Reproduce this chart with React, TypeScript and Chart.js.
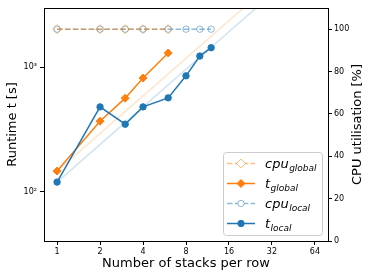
import React, { useEffect, useRef } from 'react';
import { Chart, registerables } from 'chart.js';
Chart.register(...registerables);

const stacksGlobal = [1, 2, 3, 4, 6];
const stacksLocal = [1, 2, 3, 4, 6, 8, 10, 12];
const runtimeGlobal = [147, 369, 564, 817, 1297];
const runtimeLocal = [120, 480, 349, 480, 567, 851, 1225, 1430];
const cpuGlobal = [100, 100, 100, 100, 100];
const cpuLocal = [100, 100, 100, 100, 100, 100, 100, 100];
const idealStacks = [1, 64];
const idealGlobal = [147, 9408];
const idealLocal = [120, 7680];
const xTickValues = [1, 2, 4, 8, 16, 32, 64];
const yTickValues = [100, 1000];
const yTickLabels = ['10²', '10³'];
const y2TickValues = [0, 20, 40, 60, 80, 100];
const legendMain = ['cpu', 't', 'cpu', 't'];
const legendSub = ['global', 'global', 'local', 'local'];

const ORANGE = '#ff7f0e';
const BLUE = '#1f77b4';
const ORANGE_A = 'rgba(255,127,14,0.5)';
const BLUE_A = 'rgba(31,119,180,0.5)';
const FONT = '"DejaVu Sans", sans-serif';

const pts = (xs: number[], ys: number[]) => xs.map((x, i) => ({ x, y: ys[i] }));

const legendStyles = [
  { color: ORANGE_A, dash: [5.5, 2.4], shape: 'diamond', filled: false },
  { color: ORANGE, dash: [], shape: 'diamond', filled: true },
  { color: BLUE_A, dash: [5.5, 2.4], shape: 'circle', filled: false },
  { color: BLUE, dash: [], shape: 'circle', filled: true },
];

const decor = {
  id: 'decor',
  afterDraw(chart: any) {
    const { ctx, chartArea: a } = chart;
    ctx.save();
    ctx.strokeStyle = '#000';
    ctx.lineWidth = 1;
    ctx.beginPath();
    ctx.moveTo(a.left, Math.round(a.top) + 0.5);
    ctx.lineTo(a.right, Math.round(a.top) + 0.5);
    ctx.stroke();
    ctx.restore();

    // right axis title
    ctx.save();
    ctx.font = '13px ' + FONT;
    ctx.fillStyle = '#000';
    ctx.textAlign = 'center';
    ctx.textBaseline = 'middle';
    ctx.translate(chart.width - 16.5, (a.top + a.bottom) / 2);
    ctx.rotate(-Math.PI / 2);
    ctx.fillText('CPU utilisation [%]', 0, 0);
    ctx.restore();

    // legend
    const bw = 99, bh = 83;
    const bx = a.right - 6 - bw, by = a.bottom - 6 - bh;
    ctx.save();
    ctx.beginPath();
    ctx.roundRect(bx + 0.5, by + 0.5, bw, bh, 3);
    ctx.fillStyle = 'rgba(255,255,255,0.8)';
    ctx.fill();
    ctx.strokeStyle = '#cccccc';
    ctx.lineWidth = 1;
    ctx.stroke();
    for (let i = 0; i < legendMain.length; i++) {
      const st = legendStyles[i];
      const cy = by + 11.5 + i * 20;
      ctx.strokeStyle = st.color;
      ctx.lineWidth = 1.5;
      ctx.setLineDash(st.dash);
      ctx.beginPath();
      ctx.moveTo(bx + 4, cy);
      ctx.lineTo(bx + 32, cy);
      ctx.stroke();
      ctx.setLineDash([]);
      const mx = bx + 18;
      ctx.beginPath();
      if (st.shape === 'diamond') {
        const r = st.filled ? 4 : 4.5;
        ctx.moveTo(mx, cy - r);
        ctx.lineTo(mx + r, cy);
        ctx.lineTo(mx, cy + r);
        ctx.lineTo(mx - r, cy);
        ctx.closePath();
      } else {
        ctx.arc(mx, cy, 3.2, 0, Math.PI * 2);
      }
      ctx.lineWidth = 1;
      if (st.filled) {
        ctx.fillStyle = st.color;
        ctx.fill();
      } else {
        ctx.fillStyle = '#fff';
        ctx.fill();
      }
      ctx.stroke();
      ctx.fillStyle = '#000';
      ctx.textAlign = 'left';
      ctx.textBaseline = 'alphabetic';
      ctx.font = 'italic 13px ' + FONT;
      const tx = bx + 42;
      ctx.fillText(legendMain[i], tx, cy + 4);
      const w = ctx.measureText(legendMain[i]).width;
      ctx.font = 'italic 9px ' + FONT;
      ctx.fillText(legendSub[i], tx + w + 0.5, cy + 7);
    }
    ctx.restore();
  },
};

export default function App() {
  const ref = useRef<HTMLCanvasElement>(null);
  useEffect(() => {
    const canvas = ref.current!;
    const tickGrid = { display: true, drawOnChartArea: false, drawTicks: true, tickLength: 4, color: '#000', lineWidth: 1 };
    const chart = new Chart(canvas, {
      type: 'line',
      data: {
        datasets: [
          {
            label: 'cpu_global', data: pts(stacksGlobal, cpuGlobal), yAxisID: 'y2',
            borderColor: ORANGE_A, borderWidth: 1.5, borderDash: [5.5, 2.4],
            pointStyle: 'rectRot', pointRadius: 4.5, pointBorderWidth: 1,
            pointBorderColor: ORANGE_A, pointBackgroundColor: 'rgba(0,0,0,0)',
          },
          {
            label: 'cpu_local', data: pts(stacksLocal, cpuLocal), yAxisID: 'y2',
            borderColor: BLUE_A, borderWidth: 1.5, borderDash: [5.5, 2.4],
            pointStyle: 'circle', pointRadius: 3.2, pointBorderWidth: 1,
            pointBorderColor: BLUE_A, pointBackgroundColor: 'rgba(0,0,0,0)',
          },
          {
            label: 't_local', data: pts(stacksLocal, runtimeLocal), yAxisID: 'y',
            borderColor: BLUE, borderWidth: 1.5,
            pointStyle: 'circle', pointRadius: 3.2, pointBorderWidth: 1,
            pointBorderColor: BLUE, pointBackgroundColor: BLUE,
          },
          {
            label: 't_global', data: pts(stacksGlobal, runtimeGlobal), yAxisID: 'y',
            borderColor: ORANGE, borderWidth: 1.5,
            pointStyle: 'rectRot', pointRadius: 4, pointBorderWidth: 1,
            pointBorderColor: ORANGE, pointBackgroundColor: ORANGE,
          },
          {
            label: 'ideal_local', data: pts(idealStacks, idealLocal), yAxisID: 'y',
            borderColor: 'rgba(31,119,180,0.2)', borderWidth: 1.5, pointRadius: 0,
          },
          {
            label: 'ideal_global', data: pts(idealStacks, idealGlobal), yAxisID: 'y',
            borderColor: 'rgba(255,127,14,0.2)', borderWidth: 1.5, pointRadius: 0,
          },
        ],
      },
      options: {
        responsive: false,
        animation: false,
        devicePixelRatio: 1,
        layout: { padding: { top: 8, left: 0, right: 0, bottom: 0 } },
        plugins: { legend: { display: false }, tooltip: { enabled: false } },
        elements: { line: { tension: 0 } },
        scales: {
          x: {
            type: 'logarithmic', position: 'bottom', min: 0.81, max: 79,
            afterBuildTicks: (s: any) => { s.ticks = xTickValues.map((v) => ({ value: v })); },
            afterFit: (s: any) => { s.height = 39; },
            ticks: {
              autoSkip: false, maxRotation: 0, padding: 2, color: '#000',
              font: { family: FONT, size: 8 },
              callback: (v: any) => String(v),
            },
            grid: tickGrid,
            border: { display: true, color: '#000', width: 1 },
            title: {
              display: true, text: 'Number of stacks per row', color: '#000',
              font: { family: FONT, size: 13 }, padding: { top: 0, bottom: 9 },
            },
          },
          y: {
            type: 'logarithmic', position: 'left', min: 40.5, max: 2972,
            afterBuildTicks: (s: any) => { s.ticks = yTickValues.map((v) => ({ value: v })); },
            afterFit: (s: any) => { s.width = 44; },
            ticks: {
              autoSkip: false, padding: 3, color: '#000',
              font: { family: FONT, size: 8 },
              callback: (v: any) => yTickLabels[yTickValues.indexOf(Number(v))] ?? '',
            },
            grid: tickGrid,
            border: { display: true, color: '#000', width: 1 },
            title: {
              display: true, text: 'Runtime t [s]', color: '#000',
              font: { family: FONT, size: 13 }, padding: { top: 5, bottom: 0 },
            },
          },
          y2: {
            type: 'linear', position: 'right', min: 0, max: 110,
            afterBuildTicks: (s: any) => { s.ticks = y2TickValues.map((v) => ({ value: v })); },
            afterFit: (s: any) => { s.width = 46; },
            ticks: {
              autoSkip: false, padding: 2, color: '#000',
              font: { family: FONT, size: 8 },
              callback: (v: any) => String(v),
            },
            grid: tickGrid,
            border: { display: true, color: '#000', width: 1 },
          },
        },
      },
      plugins: [decor],
    } as any);
    return () => chart.destroy();
  }, []);
  return (
    <div style={{ position: 'fixed', left: 0, top: 0, width: 374, height: 280, background: '#fff' }}>
      <canvas ref={ref} width={374} height={280} style={{ width: 374, height: 280 }} />
    </div>
  );
}
